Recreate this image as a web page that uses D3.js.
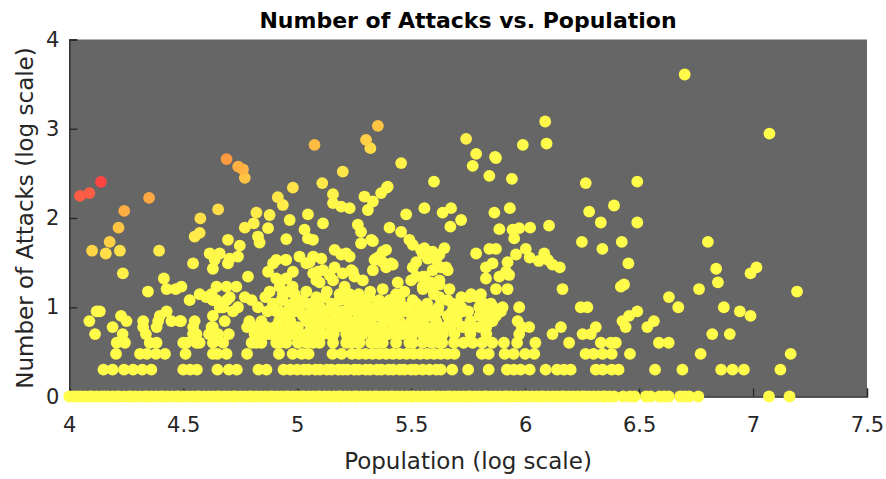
<!DOCTYPE html>
<meta charset="utf-8">
<html>
<head>
<style>
  body { margin: 0; background: #fff; }
  text { font-family: "DejaVu Sans", sans-serif; }
</style>
</head>
<body>
<div id="chart"></div>
<script src="https://d3js.org/d3.v7.min.js"></script>
<script>

// log10(population) of the places with 1, 2, 3 ... 10 attacks
var popWith1 = [4.00,4.02,4.035,4.05,4.07,4.09,4.10,4.12,4.14,4.155,4.17,4.19,4.21,4.22,4.24,4.26,4.27,4.29,4.31,4.33,4.34,4.36,4.38,4.40,4.41,4.43,4.45,4.47,4.48,4.50,4.52,4.54,4.56,4.57,4.59,4.61,4.63,4.65,4.66,4.68,4.70,4.72,4.73,4.75,4.77,4.79,4.80,4.82,4.84,4.86,4.88,4.89,4.91,4.93,4.95,4.96,4.98,5.00,5.02,5.03,5.05,5.07,5.09,5.10,5.12,5.14,5.16,5.18,5.19,5.21,5.23,5.25,5.26,5.28,5.30,5.32,5.34,5.35,5.37,5.39,5.41,5.42,5.44,5.46,5.48,5.50,5.51,5.53,5.55,5.57,5.59,5.60,5.62,5.64,5.66,5.67,5.69,5.71,5.73,5.75,5.76,5.78,5.80,5.82,5.83,5.85,5.87,5.89,5.91,5.92,5.94,5.96,5.98,6.00,6.01,6.03,6.05,6.07,6.08,6.10,6.12,6.14,6.16,6.17,6.19,6.21,6.23,6.25,6.26,6.28,6.30,6.32,6.34,6.35,6.37,6.39,6.43,6.46,6.48,6.53,6.55,6.59,6.61,6.63,6.68,6.70,6.72,6.76,7.07,7.16];
var popWith2 = [4.15,4.19,4.24,4.28,4.32,4.36,4.50,4.53,4.56,4.65,4.70,4.735,4.83,4.865,4.94,4.97,5.00,5.03,5.05,5.08,5.10,5.13,5.15,5.18,5.20,5.22,5.25,5.27,5.30,5.32,5.35,5.37,5.40,5.42,5.45,5.47,5.50,5.52,5.55,5.58,5.61,5.63,5.68,5.75,5.84,5.92,5.95,5.98,6.02,6.09,6.14,6.17,6.20,6.31,6.34,6.38,6.41,6.57,6.69,6.86,6.91,6.96,7.12];
var popWith3 = [4.205,4.31,4.34,4.38,4.42,4.51,4.63,4.65,4.69,4.78,4.92,4.98,5.02,5.05,5.155,5.195,5.24,5.27,5.30,5.33,5.36,5.39,5.42,5.45,5.48,5.51,5.54,5.57,5.60,5.63,5.66,5.69,5.81,5.84,5.91,5.95,6.00,6.04,6.265,6.30,6.34,6.38,6.46,6.77,7.165];
var popWith4 = [4.208,4.244,4.353,4.383,4.50,4.514,4.558,4.572,4.63,4.675,4.80,4.82,4.843,4.908,4.923,4.952,5.003,5.04,5.07,5.098,5.157,5.215,5.237,5.266,5.273,5.324,5.346,5.375,5.434,5.492,5.507,5.551,5.59,5.623,5.636,5.688,5.73,5.77,5.812,5.856,5.907,5.965,6.045,6.193,6.332,6.376,6.398,6.587,6.63];
var popWith5 = [4.113,4.234,4.336,4.543,4.558,4.613,4.653,4.70,4.813,4.835,4.865,4.88,4.923,4.967,4.98,5.01,5.04,5.069,5.113,5.142,5.16,5.215,5.23,5.26,5.288,5.332,5.36,5.39,5.40,5.44,5.463,5.507,5.55,5.58,5.60,5.64,5.69,5.76,5.83,5.974,6.12,6.252,6.288,6.821,6.898];
var popWith6 = [4.19,4.324,4.383,4.543,4.624,4.63,4.78,4.806,4.83,4.865,4.90,4.923,4.96,5.003,5.06,5.10,5.15,5.171,5.20,5.24,5.28,5.317,5.34,5.37,5.42,5.449,5.47,5.50,5.52,5.558,5.566,5.60,5.63,5.675,5.726,5.73,5.77,5.80,5.83,5.985,6.018,6.157,6.31,6.441,6.536];
var popWith7 = [4.088,4.251,4.324,4.39,4.448,4.485,4.49,4.55,4.682,4.79,4.843,4.92,4.97,5.04,5.08,5.13,5.171,5.19,5.23,5.27,5.273,5.317,5.32,5.38,5.419,5.45,5.50,5.55,5.61,5.668,5.70,5.76,5.828,5.843,5.857,5.967,6.427,6.565];
var popWith8 = [4.227,4.397,4.63,4.95,5.025,5.054,5.10,5.17,5.215,5.27,5.30,5.35,5.375,5.44,5.52,5.58,5.66,5.70,5.80,5.872,6.456,6.989];
var popWith9 = [4.12,4.134,4.427,4.718,4.87,4.908,4.923,4.99,5.01,5.06,5.127,5.20,5.26,5.303,5.346,5.361,5.40,5.478,5.48,5.54,5.60,5.616,5.68,5.726,5.75,5.828,5.894,6.492,6.942];
var popWith10 = [4.66,4.675,4.74,4.828,4.894,4.967,5.00,5.10,5.16,5.23,5.303,5.34,5.39,5.441,5.47,5.492,5.566,5.62,5.72,5.799,5.86,5.901,5.974,6.244,6.273,6.672,6.872];

// remaining places: [log10(population), attacks]
var otherPlaces = [
  [4.047,177],[4.088,190],[4.139,254],[4.35,168],[4.241,120],[4.216,78],[4.177,54],[4.10,43],[4.16,40],[4.222,43],
  [4.394,43],[4.235,24],[4.415,21],[4.427,16],[4.467,16],[4.345,15],[4.492,17],
  [4.69,457],[4.741,377],[4.762,350],[4.77,282],[4.981,219],[4.915,171],[4.937,140],[4.967,95],[4.653,125],[4.575,99],
  [4.821,115],[4.879,108],[4.809,87],[4.77,78],[4.872,77],[4.828,62],[4.835,53],[4.952,58],[4.55,62],[4.572,68],
  [5.047,110],[5.032,74],[5.047,59],[4.696,57],[4.748,49],[4.616,40],[4.638,34],[4.66,40],[4.704,35],[4.696,31],
  [4.74,37],[4.63,27],[4.543,31],[5.01,37],[4.981,25],[4.949,34],[4.894,31],[4.872,25],[4.784,22],[4.69,17],[4.733,17],
  [4.572,14],[4.528,12],[4.624,14],[4.646,12],[4.704,13],[4.77,13],[4.80,12],[4.923,17],[4.937,14],[4.879,15],
  [4.908,21],[4.952,21],[4.989,14],[4.937,12],[5.025,12],[4.646,17],[4.60,13],[4.63,12],[4.69,12],
  [4.908,34],[4.952,34],[4.98,17],[5.04,31],[5.07,24],[5.113,26],[5.07,37],[5.098,19],[5.157,20],[5.186,14],[5.215,12],
  [4.894,11],[4.93,12],[4.981,11],[4.86,13],[4.96,15],
  [5.456,412],[5.2,331],[5.11,246],[5.157,185],[5.193,134],[5.23,129],[5.157,147],[5.295,174],[5.332,153],[5.368,190],
  [5.397,225],[5.31,123],[5.113,87],[5.069,57],[5.478,110],[5.558,129],[5.266,84],[5.28,70],[5.405,78],[5.456,70],
  [5.492,57],[5.507,50],[5.28,52],[5.325,57],[5.164,44],[5.193,39],[5.23,37],[5.054,32],[5.106,35],[5.39,44],[5.361,37],
  [5.339,34],[5.412,31],[5.39,28],[5.522,32],[5.551,40],[5.091,25],[5.084,20],[5.164,28],[5.142,23],[5.2,24],[5.237,26],
  [5.251,22],[5.375,16],[5.441,19],[5.434,14],[5.405,11],[5.5,20],[5.522,22],[5.551,16],[5.507,12],[5.04,15],[5.084,13],
  [5.12,13],[5.025,11],[5.208,17],[5.186,12],[5.23,14],[5.259,12],
  [5.06,11],[5.15,11],[5.29,11],[5.36,12],[5.45,12],[5.57,11],[5.66,12],[5.72,13],[5.13,15],[5.32,15],[5.47,15],
  [5.60,14],[5.27,14],
  [5.332,55],[5.375,42],[5.346,35],[5.543,44],[5.573,35],[5.624,39],[5.215,40],[5.244,25],[5.288,20],[5.332,26],
  [5.375,32],[5.419,30],[5.507,28],[5.551,22],[5.594,26],[5.624,20],[5.653,28],[5.551,17],[5.594,16],[5.624,13],
  [5.23,13],[5.273,12],[5.317,13],[5.405,12],[5.522,11],
  [5.77,384],[5.872,470],[5.6,256],[5.843,297],[5.942,274],[5.638,115],[5.675,129],[5.719,95],[5.672,80],[5.865,115],
  [5.933,129],[5.887,75],[5.945,74],[5.974,77],[6.022,78],[5.952,59],[6.105,82],[5.558,46],[5.594,42],[5.646,46],
  [5.609,34],[5.631,28],[5.66,26],[5.558,22],[5.551,17],[5.587,19],[5.624,18],[5.668,16],[5.785,40],[5.843,45],
  [5.872,45],[5.857,31],[5.923,32],[5.828,21],[5.887,22],[5.93,23],[5.96,39],[6.003,45],[6.02,36],[6.06,33],[6.084,40],
  [6.1,34],[6.12,30],[6.152,28],[5.872,16],[5.923,16],[5.763,14],[5.682,11],[5.806,14],[5.85,11],[5.828,28],[5.916,25],
  [5.755,13],[5.79,13],[5.82,11],
  [5.354,1079],[5.302,751],[5.321,606],[5.741,771],[5.785,523],[5.868,484],[5.99,660],[6.088,1205],[6.094,683],
  [5.393,219],[5.076,660],
  [6.266,246],[6.492,256],[6.281,118],[6.39,138],[6.332,89],[6.492,89],[6.249,54],[6.339,45],[6.424,54],[6.164,16],
  [6.453,31],[6.42,17],[6.434,18],[6.631,13],
  [6.802,54],[6.838,27],[6.846,19],[6.989,24],[7.015,28],[7.193,15],[6.763,16],
  [6.7,4055],[7.072,883]
];

var xTicks = [4, 4.5, 5, 5.5, 6, 6.5, 7, 7.5];
var yTicks = [0, 1, 2, 3, 4];

// gather all places
var places = [];
[popWith1, popWith2, popWith3, popWith4, popWith5, popWith6, popWith7, popWith8, popWith9, popWith10]
  .forEach(function(list, i) {
    list.forEach(function(p) { places.push({pop: p, attacks: i + 1}); });
  });
otherPlaces.forEach(function(d) { places.push({pop: d[0], attacks: d[1]}); });
places.forEach(function(d) {
  d.logA = Math.log10(d.attacks);
  d.rate = d.logA - d.pop;
});
// draw the high-rate ones last
places.sort(function(a, b) { return a.rate - b.rate; });

var W = 886, H = 479;
var svg = d3.select("#chart").append("svg")
  .attr("width", W).attr("height", H);

var x = d3.scaleLinear().domain([4, 7.5]).range([69.3, 867]);
var y = d3.scaleLinear().domain([0, 4]).range([396.5, 39.5]);

var color = d3.scaleLinear()
  .domain([-3.2, -2.9, -2.6, -2.45, -2.32, -2.16, -2.03, -1.8, -1.73])
  .range(["#fffc4a", "#fff44a", "#ffe24a", "#ffd246", "#ffc444", "#ffad42", "#ff9a40", "#ff5c44", "#ff4242"])
  .clamp(true);

// gray plot area
svg.append("rect")
  .attr("x", x(4)).attr("y", y(4))
  .attr("width", x(7.5) - x(4)).attr("height", y(0) - y(4))
  .attr("fill", "#666666");

// axes, ticks pointing inward
var xAxis = svg.append("g")
  .attr("transform", "translate(0," + y(0) + ")")
  .call(d3.axisBottom(x).tickValues(xTicks).tickSize(-8).tickPadding(21)
    .tickFormat(function(d) { return d; }));
var yAxis = svg.append("g")
  .attr("transform", "translate(" + x(4) + ",0)")
  .call(d3.axisLeft(y).tickValues(yTicks).tickSize(-8).tickPadding(10)
    .tickFormat(function(d) { return d; }));

[xAxis, yAxis].forEach(function(g) {
  g.select(".domain").attr("stroke", "#262626").attr("stroke-width", 1.3);
  g.selectAll(".tick line").attr("stroke", "#262626").attr("stroke-width", 1.3);
  g.selectAll(".tick text")
    .attr("fill", "#262626")
    .style("font-family", "DejaVu Sans, sans-serif")
    .style("font-size", "21px");
});

// points
svg.append("g")
  .selectAll("circle")
  .data(places)
  .enter()
  .append("circle")
    .attr("cx", function(d) { return x(d.pop); })
    .attr("cy", function(d) { return y(d.logA); })
    .attr("r", 5.9)
    .attr("fill", function(d) { return color(d.rate); });

// title and labels
svg.append("text")
  .attr("x", 468).attr("y", 28)
  .attr("text-anchor", "middle")
  .style("font-size", "22px").style("font-weight", "bold")
  .attr("fill", "#000")
  .text("Number of Attacks vs. Population");

svg.append("text")
  .attr("x", 468).attr("y", 469)
  .attr("text-anchor", "middle")
  .style("font-size", "23px")
  .attr("fill", "#262626")
  .text("Population (log scale)");

svg.append("text")
  .attr("transform", "translate(33,218) rotate(-90)")
  .attr("text-anchor", "middle")
  .style("font-size", "23px")
  .attr("fill", "#262626")
  .text("Number of Attacks (log scale)");

</script>
</body>
</html>
